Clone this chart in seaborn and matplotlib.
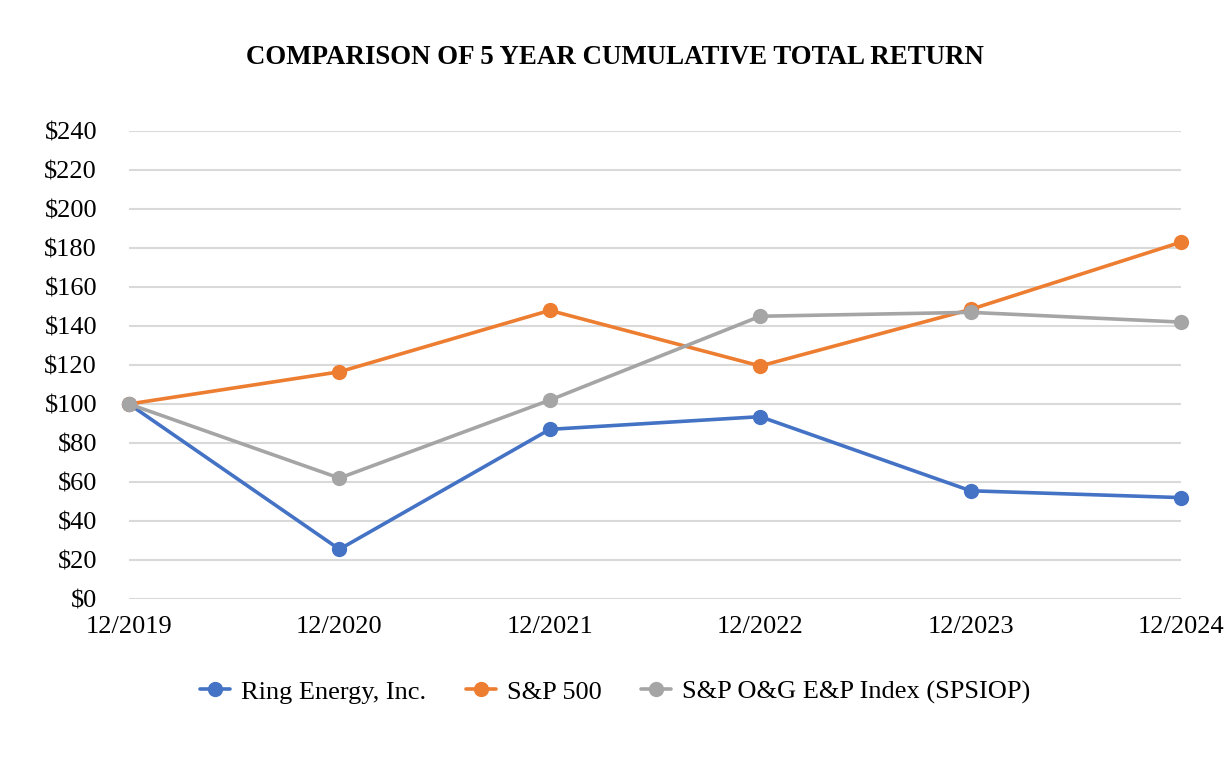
import pandas as pd
import matplotlib
matplotlib.use("Agg")
import matplotlib.pyplot as plt
import seaborn as sns

years = ['12/2019', '12/2020', '12/2021', '12/2022', '12/2023', '12/2024']
ring = [100, 25.5, 87, 93.5, 55.5, 52]
sp500 = [100, 116.5, 148, 119.5, 148.5, 183]
spsiop = [100, 62, 102, 145, 147, 142]
series_names = ['Ring Energy, Inc.', 'S&P 500', 'S&P O&G E&P Index (SPSIOP)']
colors = ['#4472C4', '#ED7D31', '#A5A5A5']

rows = []
for name, vals in zip(series_names, [ring, sp500, spsiop]):
    for i, v in enumerate(vals):
        rows.append({'pos': i, 'year': years[i], 'value': v, 'series': name})
df = pd.DataFrame(rows)

sns.set_style('white')
plt.rcParams['font.family'] = ['Liberation Serif', 'DejaVu Serif']
plt.rcParams['text.color'] = 'black'
plt.rcParams['xtick.color'] = 'black'
plt.rcParams['ytick.color'] = 'black'

fig = plt.figure(figsize=(12.3, 7.6), dpi=100)
ax = fig.add_axes([129 / 1230, 161 / 760, 1052 / 1230, 468 / 760])

sns.lineplot(data=df, x='pos', y='value', hue='series', hue_order=series_names,
             palette=colors, marker='o', markersize=11, markeredgewidth=0,
             linewidth=2.6, ax=ax, zorder=3)

ax.set_xlim(0, 5)
ax.set_ylim(0, 240)
ax.set_yticks(range(0, 241, 20))
ax.set_yticklabels(['$' + str(t) for t in range(0, 241, 20)], fontsize=19)
ax.set_xticks(range(len(years)))
ax.set_xticklabels(years, fontsize=19)
ax.tick_params(axis='x', pad=12, length=0)
ax.tick_params(axis='y', pad=23, length=0)
ax.yaxis.grid(True, color='#D9D9D9', linewidth=1.5)
ax.xaxis.grid(False)
for s in ax.spines.values():
    s.set_visible(False)
ax.set_xlabel('')
ax.set_ylabel('')
ax.set_axisbelow(True)
for line in ax.lines:
    line.set_clip_on(False)

fig.text(615 / 1230, 1 - 58 / 760, 'COMPARISON OF 5 YEAR CUMULATIVE TOTAL RETURN',
         ha='center', va='center', fontsize=19.4, fontweight='bold')

handles, labels = ax.get_legend_handles_labels()
ax.legend(handles, labels, loc='center', bbox_to_anchor=(615 / 1230, 1 - 692 / 760),
          bbox_transform=fig.transFigure, ncol=3, frameon=False, fontsize=19,
          handlelength=1.15, columnspacing=1.5, handletextpad=0.4)

fig.savefig('out.png', dpi=100)
